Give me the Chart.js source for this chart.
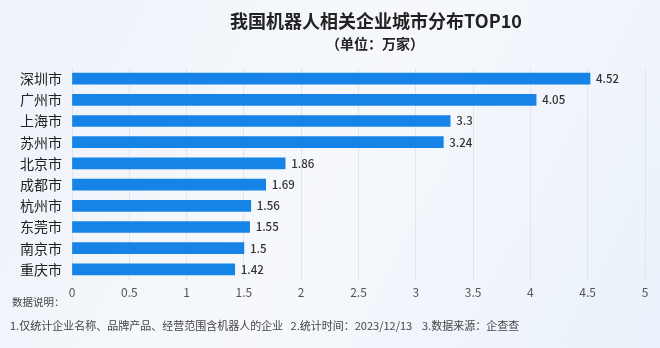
<!DOCTYPE html>
<html><head><meta charset="utf-8">
<script src="https://cdn.jsdelivr.net/npm/chart.js@4"></script>
<style>html,body{margin:0;padding:0;background:#f0f4fa;}#wrap{width:660px;height:348px;}</style>
</head><body><div id="wrap"><canvas id="c" width="660" height="348"></canvas></div>
<script>
const cities = ["深圳市","广州市","上海市","苏州市","北京市","成都市","杭州市","东莞市","南京市","重庆市"];
const counts = [4.52,4.05,3.3,3.24,1.86,1.69,1.56,1.55,1.5,1.42];
const titleText = "我国机器人相关企业城市分布TOP10";
const subtitleText = "（单位：万家）";
const noteHead = "数据说明：";
const noteBody = "1.仅统计企业名称、品牌产品、经营范围含机器人的企业   2.统计时间：2023/12/13    3.数据来源：企查查";
const FONT = '"Noto Sans CJK SC","Noto Sans",sans-serif';

const deco = {
  id:'deco',
  beforeDraw(chart){
    const ctx = chart.ctx;
    const g = ctx.createLinearGradient(0,0,660,348);
    g.addColorStop(0,'#eef3fa');
    g.addColorStop(0.5,'#f6f8fc');
    g.addColorStop(1,'#eaf1fa');
    ctx.save();
    ctx.fillStyle = g;
    ctx.fillRect(0,0,chart.width,chart.height);
    ctx.restore();
  },
  afterDraw(chart){
    const ctx = chart.ctx;
    ctx.save();
    ctx.fillStyle = '#222';
    ctx.textAlign = 'center';
    ctx.textBaseline = 'middle';
    ctx.letterSpacing = '0px';
    ctx.font = 'bold 18px ' + FONT;
    ctx.fillText(titleText, 376, 21);
    ctx.font = 'bold 14px ' + FONT;
    ctx.fillText(subtitleText, 375, 44);
    ctx.textAlign = 'left';
    ctx.fillStyle = '#444';
    ctx.font = '10.5px ' + FONT;
    ctx.fillText(noteHead, 12, 302);
    ctx.font = '11px ' + FONT;
    ctx.fillText(noteBody, 10, 326);
    // value labels
    const meta = chart.getDatasetMeta(0);
    ctx.fillStyle = '#333';
    ctx.font = '500 11.5px ' + FONT;
    meta.data.forEach((bar,i)=>{
      ctx.fillText(String(counts[i]), bar.x + 6, bar.y);
    });
    ctx.restore();
  }
};

new Chart(document.getElementById('c'), {
  type:'bar',
  data:{labels:cities, datasets:[{data:counts, backgroundColor:'#1683e6', barThickness:11, borderWidth:0}]},
  options:{
    indexAxis:'y',
    responsive:false,
    animation:false,
    layout:{padding:{top:68,bottom:48,right:15,left:0}},
    plugins:{legend:{display:false},tooltip:{enabled:false}},
    scales:{
      x:{min:0,max:5,
        ticks:{stepSize:0.5,color:'#555',font:{size:12,family:FONT},padding:5,
          callback:(v)=>String(Math.round(v*10)/10)},
        grid:{color:'#e1e6ee',drawTicks:false},
        border:{display:false},
        afterFit(s){s.height=20;}
      },
      y:{
        ticks:{color:'#222',font:{size:14,family:FONT},padding:10},
        grid:{display:false,drawTicks:false},
        border:{display:false},
        afterFit(s){s.width=72;}
      }
    }
  },
  plugins:[deco]
});
</script></body></html>
